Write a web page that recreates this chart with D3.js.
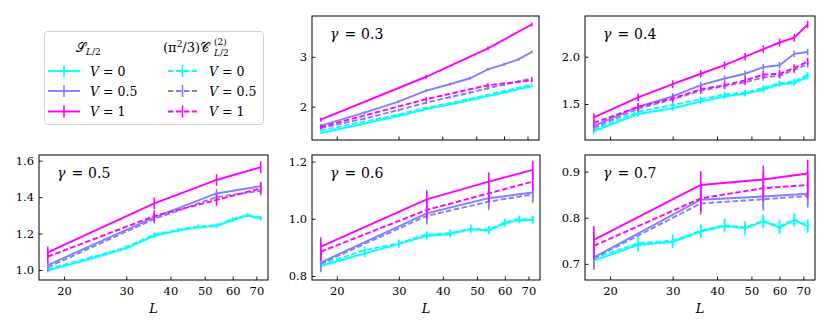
<!DOCTYPE html>
<html><head><meta charset="utf-8">
<script src="https://cdn.jsdelivr.net/npm/d3@7"></script>
<style>
body{margin:0;background:#fff;}
svg{display:block;font-family:"DejaVu Serif",serif;}
</style></head><body>
<div id="chart"></div>
<script>
// system sizes
const Lfull = [18, 24, 30, 36, 42, 48, 54, 60, 66, 72];
const Lsparse = [18, 36, 54, 72];
const gammas = [0.3, 0.4, 0.5, 0.6, 0.7];
const vLabels = ["0", "0.5", "1"];
const colors = ["#00ffff", "#8080ff", "#ff00ff"];
const xTicks = [20, 30, 40, 50, 60, 70];
const yTicks = [[2, 3], [1.5, 2.0], [1.0, 1.2, 1.4, 1.6], [0.8, 1.0, 1.2], [0.7, 0.8, 0.9]];
const yFormats = ["d", ".1f", ".1f", ".1f", ".1f"];
const yDomains = [[1.33, 3.82], [1.12, 2.43], [0.945, 1.631], [0.786, 1.223], [0.665, 0.936]];

// gamma = 0.3  (S = entanglement entropy, C = scaled cumulant)
const S03_V0 = [1.47, 1.66, 1.81, 1.95, 2.04, 2.13, 2.21, 2.28, 2.35, 2.41];
const S03_V05 = [1.62, 1.88, 2.10, 2.32, 2.45, 2.57, 2.75, 2.85, 2.95, 3.10];
const S03_V1 = [1.74, 2.60, 3.17, 3.65];
const C03_V0 = [1.52, 1.70, 1.84, 1.98, 2.07, 2.16, 2.24, 2.31, 2.38, 2.45];
const C03_V05 = [1.57, 1.76, 1.93, 2.08, 2.19, 2.28, 2.37, 2.44, 2.50, 2.57];
const C03_V1 = [1.59, 2.15, 2.43, 2.53];
// gamma = 0.4
const S04_V0 = [1.21, 1.395, 1.455, 1.525, 1.58, 1.61, 1.65, 1.71, 1.72, 1.79];
const S04_V05 = [1.27, 1.47, 1.58, 1.70, 1.77, 1.82, 1.89, 1.91, 2.03, 2.05];
const S04_V1 = [1.36, 1.57, 1.71, 1.82, 1.91, 2.00, 2.08, 2.15, 2.20, 2.34];
const C04_V0 = [1.23, 1.42, 1.49, 1.55, 1.60, 1.62, 1.67, 1.72, 1.74, 1.81];
const C04_V05 = [1.25, 1.45, 1.55, 1.64, 1.69, 1.73, 1.78, 1.80, 1.86, 1.92];
const C04_V1 = [1.30, 1.47, 1.56, 1.655, 1.70, 1.75, 1.81, 1.82, 1.88, 1.95];
// gamma = 0.5
const S05_V0 = [0.996, 1.064, 1.119, 1.187, 1.216, 1.234, 1.241, 1.274, 1.298, 1.282];
const S05_V05 = [1.027, 1.289, 1.42, 1.46];
const S05_V1 = [1.097, 1.366, 1.494, 1.564];
const C05_V0 = [1.005, 1.07, 1.125, 1.195, 1.22, 1.24, 1.245, 1.28, 1.302, 1.288];
const C05_V05 = [1.015, 1.28, 1.40, 1.435];
const C05_V1 = [1.073, 1.296, 1.384, 1.448];
// gamma = 0.6
const S06_V0 = [0.835, 0.879, 0.912, 0.94, 0.947, 0.963, 0.959, 0.984, 0.996, 0.996];
const S06_V05 = [0.847, 1.019, 1.072, 1.092];
const S06_V1 = [0.9025, 1.068, 1.13, 1.171];
const C06_V0 = [0.84, 0.89, 0.915, 0.945, 0.95, 0.966, 0.962, 0.988, 0.999, 0.998];
const C06_V05 = [0.843, 1.01, 1.06, 1.085];
const C06_V1 = [0.885, 1.031, 1.089, 1.13];
// gamma = 0.7
const S07_V0 = [0.707, 0.741, 0.748, 0.77, 0.782, 0.777, 0.792, 0.779, 0.795, 0.781];
const S07_V05 = [0.714, 0.839, 0.846, 0.852];
const S07_V1 = [0.752, 0.871, 0.883, 0.896];
const C07_V0 = [0.712, 0.745, 0.75, 0.772, 0.784, 0.779, 0.793, 0.781, 0.796, 0.783];
const C07_V05 = [0.712, 0.831, 0.84, 0.847];
const C07_V1 = [0.739, 0.842, 0.864, 0.871];

// error bar half-heights per panel: [S V0, S V0.5, S V1, C V0, C V0.5, C V1]
const err03 = [0.015, 0.03, 0.04, 0.015, 0.03, 0.04];
const err04 = [0.03, 0.035, 0.04, 0.03, 0.035, 0.04];
const err05 = [0.01, 0.025, 0.032, 0.01, 0.025, 0.032];
const err06 = [0.013, 0.03, 0.032, 0.013, 0.03, 0.032];
const err07 = [0.014, 0.025, 0.03, 0.014, 0.025, 0.03];

const seriesValues = [
  [S03_V0, S03_V05, S03_V1, C03_V0, C03_V05, C03_V1],
  [S04_V0, S04_V05, S04_V1, C04_V0, C04_V05, C04_V1],
  [S05_V0, S05_V05, S05_V1, C05_V0, C05_V05, C05_V1],
  [S06_V0, S06_V05, S06_V1, C06_V0, C06_V05, C06_V1],
  [S07_V0, S07_V05, S07_V1, C07_V0, C07_V05, C07_V1]
];
const seriesErrs = [err03, err04, err05, err06, err07];

const width = 830, height = 332;
const boxes = [
  {x0: 312, x1: 539, y0: 16, y1: 140, bottom: false},
  {x0: 585, x1: 815, y0: 16, y1: 140, bottom: false},
  {x0: 39, x1: 268, y0: 155, y1: 280, bottom: true},
  {x0: 312, x1: 540, y0: 155, y1: 280, bottom: true},
  {x0: 585, x1: 815, y0: 155, y1: 280, bottom: true}
];
const dash = "5.5,2.5";

const svg = d3.select('#chart').append('svg')
  .attr('width', width)
  .attr('height', height);

gammas.forEach((g, p) => {
  const b = boxes[p];
  const x = d3.scaleLog().domain([17, 75.5]).range([b.x0, b.x1]);
  const y = d3.scaleLinear().domain(yDomains[p]).range([b.y1, b.y0]);
  const panel = svg.append('g');

  const clipId = 'clip' + p;
  panel.append('clipPath').attr('id', clipId)
    .append('rect').attr('x', b.x0).attr('y', b.y0)
    .attr('width', b.x1 - b.x0).attr('height', b.y1 - b.y0);
  const plot = panel.append('g').attr('clip-path', `url(#${clipId})`);

  seriesValues[p].forEach((vals, k) => {
    const Ls = vals.length === Lfull.length ? Lfull : Lsparse;
    const pts = vals.map((v, i) => ({L: Ls[i], v: v, e: seriesErrs[p][k]}));
    const col = colors[k % 3];
    const line = d3.line().x(d => x(d.L)).y(d => y(d.v));
    plot.append('path')
      .datum(pts)
      .attr('d', line)
      .attr('fill', 'none')
      .attr('stroke', col)
      .attr('stroke-width', 1.9)
      .attr('stroke-dasharray', k >= 3 ? dash : null);
    plot.selectAll(null)
      .data(pts)
      .enter()
      .append('line')
      .attr('x1', d => x(d.L)).attr('x2', d => x(d.L))
      .attr('y1', d => y(d.v - d.e)).attr('y2', d => y(d.v + d.e))
      .attr('stroke', col)
      .attr('stroke-width', 1.6);
  });

  // axes (ticks point inward)
  const xAxis = d3.axisBottom(x).tickValues(xTicks).tickSizeInner(-3.5).tickSizeOuter(0)
    .tickFormat(b.bottom ? d3.format('d') : '').tickPadding(7);
  const gx = panel.append('g').attr('transform', `translate(0,${b.y1})`).call(xAxis);
  const yAxis = d3.axisLeft(y).tickValues(yTicks[p]).tickSizeInner(-3.5).tickSizeOuter(0)
    .tickFormat(d3.format(yFormats[p])).tickPadding(5);
  const gy = panel.append('g').attr('transform', `translate(${b.x0},0)`).call(yAxis);
  [gx, gy].forEach(a => {
    a.select('.domain').remove();
    a.selectAll('text').attr('font-family', '"DejaVu Serif", serif').attr('font-size', 11.5).attr('fill', '#000');
    a.selectAll('line').attr('stroke', '#000').attr('stroke-width', 0.9);
  });

  panel.append('rect')
    .attr('x', b.x0).attr('y', b.y0)
    .attr('width', b.x1 - b.x0).attr('height', b.y1 - b.y0)
    .attr('fill', 'none').attr('stroke', '#000').attr('stroke-width', 1);

  const lab = panel.append('text')
    .attr('x', b.x0 + 18).attr('y', b.y0 + 22.7)
    .attr('font-size', 14).attr('fill', '#000');
  lab.append('tspan').attr('font-style', 'italic').text('γ');
  lab.append('tspan').attr('dx', 6).text('=');
  lab.append('tspan').attr('dx', 5).text(d3.format('.1f')(g));

  if (b.bottom) {
    panel.append('text')
      .attr('x', (b.x0 + b.x1) / 2).attr('y', 313)
      .attr('text-anchor', 'middle')
      .attr('font-size', 13).attr('font-style', 'italic')
      .text('L');
  }
});

// legend
const leg = svg.append('g');
leg.append('rect')
  .attr('x', 44.5).attr('y', 31.5).attr('width', 219).attr('height', 93)
  .attr('rx', 3).attr('fill', '#fff').attr('stroke', '#d0d0d0').attr('stroke-width', 1);

const h1 = leg.append('text').attr('x', 76).attr('y', 52).attr('font-size', 13);
h1.append('tspan').text('𝒮');
h1.append('tspan').attr('font-size', 9).attr('dy', 3).attr('font-style', 'italic').text('L');
h1.append('tspan').attr('font-size', 9).attr('dy', 0).text('/2');

const h2 = leg.append('text').attr('x', 163).attr('y', 52).attr('font-size', 13);
h2.append('tspan').text('(π');
h2.append('tspan').attr('font-size', 9).attr('dy', -5).text('2');
h2.append('tspan').attr('dy', 5).text('/3)𝒞');
leg.append('text').attr('x', 214).attr('y', 45).attr('font-size', 9).text('(2)');
const sub2 = leg.append('text').attr('x', 214).attr('y', 56).attr('font-size', 9);
sub2.append('tspan').attr('font-style', 'italic').text('L');
sub2.append('tspan').text('/2');

const rowY = [71, 91, 111.5];
vLabels.forEach((v, i) => {
  [0, 1].forEach(c => {
    const hx = c === 0 ? 48 : 168;
    const hw = c === 0 ? 32 : 29;
    leg.append('line')
      .attr('x1', hx).attr('x2', hx + hw).attr('y1', rowY[i]).attr('y2', rowY[i])
      .attr('stroke', colors[i]).attr('stroke-width', 1.9)
      .attr('stroke-dasharray', c === 1 ? dash : null);
    leg.append('line')
      .attr('x1', hx + hw / 2).attr('x2', hx + hw / 2)
      .attr('y1', rowY[i] - 6).attr('y2', rowY[i] + 6)
      .attr('stroke', colors[i]).attr('stroke-width', 1.6);
    const t = leg.append('text')
      .attr('x', c === 0 ? 90 : 209).attr('y', rowY[i] + 4.5)
      .attr('font-size', 12.5);
    t.append('tspan').attr('font-style', 'italic').text('V');
    t.append('tspan').attr('dx', 4).text('=');
    t.append('tspan').attr('dx', 4).text(v);
  });
});
</script>
</body></html>
